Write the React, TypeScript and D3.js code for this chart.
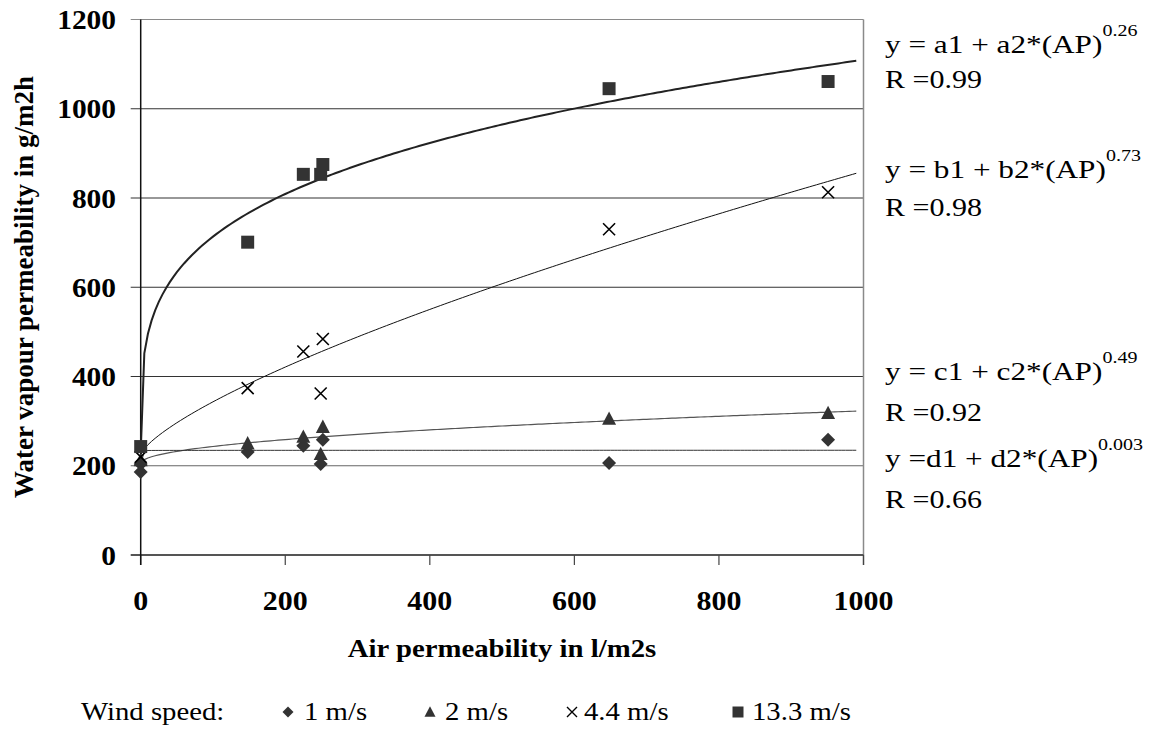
import React from "react";
import * as d3 from "d3";

// Measured points: air permeability (l/m2s) against water vapour permeability (g/m2h)
const diamondAP = [0, 0, 148, 225, 249, 252, 648, 951];
const diamondVal = [204, 186, 231, 245, 204, 258, 206, 258];

const triangleAP = [0, 148, 225, 249, 252, 648, 951];
const triangleVal = [212, 250, 265, 226, 287, 305, 318];

const crossAP = [0, 148, 225, 249, 252, 648, 951];
const crossVal = [220, 374, 456, 362, 484, 730, 813];

const squareAP = [0, 148, 225, 249, 252, 648, 951];
const squareVal = [243, 701, 853, 853, 875, 1045, 1061];

// Power-law fits y = k1 + k2 * AP^n, one per wind speed
const fitNames = ["a", "b", "c", "d"];
const fitIntercept = [230, 225, 205, 200];
const fitCoef = [146, 4.1, 4.0, 34];
const fitExponent = ["0.26", "0.73", "0.49", "0.003"];
const fitR = ["0.99", "0.98", "0.92", "0.66"];

const xTicks = [0, 200, 400, 600, 800, 1000];
const yTicks = [0, 200, 400, 600, 800, 1000, 1200];

const legendTitle = "Wind speed:";
const legendLabels = ["1 m/s", "2 m/s", "4.4 m/s", "13.3 m/s"];

const W = 1149;
const H = 729;
const X0 = 140.7;
const X1 = 863.5;
const Y0 = 555;
const Y1 = 19.5;

const x = d3.scaleLinear().domain([0, 1000]).range([X0, X1]);
const y = d3.scaleLinear().domain([0, 1200]).range([Y0, Y1]);

const MARK = "#333333";
const txt = { fontFamily: "Liberation Serif" };

const diamondPath = (cx: number, cy: number, r: number) =>
  `M${cx},${cy - r}L${cx + r},${cy}L${cx},${cy + r}L${cx - r},${cy}Z`;
const trianglePath = (cx: number, cy: number, r: number) =>
  `M${cx},${cy - r * 1.05}L${cx + r},${cy + r * 0.85}L${cx - r},${cy + r * 0.85}Z`;
const squarePath = (cx: number, cy: number, r: number) =>
  `M${cx - r},${cy - r}H${cx + r}V${cy + r}H${cx - r}Z`;
const crossPath = (cx: number, cy: number, r: number) =>
  `M${cx - r},${cy - r}L${cx + r},${cy + r}M${cx + r},${cy - r}L${cx - r},${cy + r}`;

const fitStyles = [
  { stroke: "#222", width: 2 },
  { stroke: "#111", width: 1 },
  { stroke: "#555", width: 1.2 },
  { stroke: "#333", width: 1 },
];

const fitSamples = d3.range(0, 990.1, 5);

// Text drawn slightly widened, as in the original export
const at = (px: number, py: number, sx: number) => `translate(${px},${py}) scale(${sx},1)`;

export default function App() {
  const line = d3
    .line<[number, number]>()
    .x((d) => x(d[0]))
    .y((d) => y(d[1]));

  const eqBase = [53, 178, 380, 467];
  const rBase = [88, 216, 421, 508];

  const legendMarkX = [288, 430, 572, 738];
  const legendTextX = [304, 445, 584, 752];
  const legendY = 720;

  return (
    <svg
      width={W}
      height={H}
      viewBox={`0 0 ${W} ${H}`}
      style={{ position: "absolute", left: 0, top: 0, background: "#fff" }}
    >
      {/* horizontal gridlines */}
      {yTicks.slice(1).map((t) => (
        <line
          key={`g${t}`}
          x1={X0 - 10}
          x2={X1}
          y1={y(t)}
          y2={y(t)}
          stroke={t === 1200 ? "#8a8a8a" : t === 200 ? "#666" : "#333"}
          strokeWidth={1.2}
        />
      ))}
      {/* right border */}
      <line x1={X1} x2={X1} y1={Y1} y2={Y0 + 10} stroke="#8a8a8a" strokeWidth={1.5} />
      {/* x axis */}
      <line x1={X0 - 10} x2={X1} y1={Y0} y2={Y0} stroke="#555" strokeWidth={2} />
      {xTicks.map((t) => (
        <line key={`xt${t}`} x1={x(t)} x2={x(t)} y1={Y0} y2={Y0 + 10} stroke="#444" strokeWidth={1.2} />
      ))}
      {/* y axis */}
      <line x1={X0} x2={X0} y1={Y1} y2={Y0 + 10} stroke="#111" strokeWidth={1.5} />

      {/* tick labels */}
      {yTicks.map((t) => (
        <text
          key={`yl${t}`}
          transform={at(116, y(t) + 9.5, 1.07)}
          textAnchor="end"
          fontWeight="bold"
          fontSize={27.5}
          fill="#000"
          style={txt}
        >
          {t}
        </text>
      ))}
      {xTicks.map((t) => (
        <text
          key={`xl${t}`}
          transform={at(x(t), 610, 1.07)}
          textAnchor="middle"
          fontWeight="bold"
          fontSize={28}
          fill="#000"
          style={txt}
        >
          {t}
        </text>
      ))}

      {/* axis titles */}
      <text
        transform={at(502, 657, 1.15)}
        textAnchor="middle"
        fontWeight="bold"
        fontSize={25}
        style={txt}
      >
        Air permeability in l/m2s
      </text>
      <text
        transform="translate(33,287) rotate(-90)"
        textAnchor="middle"
        fontWeight="bold"
        fontSize={27}
        style={txt}
      >
        Water vapour permeability in g/m2h
      </text>

      {/* fitted curves */}
      {fitNames.map((n, i) => {
        const pts: [number, number][] = fitSamples.map((ap) => [
          ap,
          fitIntercept[i] + fitCoef[i] * Math.pow(ap, parseFloat(fitExponent[i])),
        ]);
        return (
          <path
            key={`fit${n}`}
            d={line(pts) || ""}
            fill="none"
            stroke={fitStyles[i].stroke}
            strokeWidth={fitStyles[i].width}
          />
        );
      })}

      {/* markers */}
      {diamondAP.map((ap, i) => (
        <path key={`d${i}`} d={diamondPath(x(ap), y(diamondVal[i]), 7)} fill={MARK} />
      ))}
      {triangleAP.map((ap, i) => (
        <path key={`t${i}`} d={trianglePath(x(ap), y(triangleVal[i]), 7)} fill={MARK} />
      ))}
      {crossAP.map((ap, i) => (
        <path key={`c${i}`} d={crossPath(x(ap), y(crossVal[i]), 6)} stroke="#000" strokeWidth={1.6} fill="none" />
      ))}
      {squareAP.map((ap, i) => (
        <path key={`s${i}`} d={squarePath(x(ap), y(squareVal[i]), 6.5)} fill={MARK} />
      ))}

      {/* fit equations */}
      {fitNames.map((n, i) => {
        const mid = n === "d" ? " =" : " = ";
        return (
          <g key={`eq${n}`} fontSize={25} fill="#000">
            <text transform={at(885, eqBase[i], 1.25)} style={txt}>
              {`y${mid}${n}1 + ${n}2*(AP)`}
              <tspan fontSize={16} dy={-17}>
                {fitExponent[i]}
              </tspan>
            </text>
            <text transform={at(885, rBase[i], 1.2)} style={txt}>{`R =${fitR[i]}`}</text>
          </g>
        );
      })}

      {/* legend */}
      <g fontSize={25} fill="#000">
        <text transform={at(81, legendY, 1.15)} style={txt}>
          {legendTitle}
        </text>
        <path d={diamondPath(legendMarkX[0], legendY - 8, 5.5)} fill={MARK} />
        <path d={trianglePath(legendMarkX[1], legendY - 8, 5.5)} fill={MARK} />
        <path d={crossPath(legendMarkX[2], legendY - 8, 5)} stroke="#000" strokeWidth={1.4} fill="none" />
        <path d={squarePath(legendMarkX[3], legendY - 8, 5.5)} fill={MARK} />
        {legendLabels.map((l, i) => (
          <text key={l} transform={at(legendTextX[i], legendY, 1.15)} style={txt}>
            {l}
          </text>
        ))}
      </g>
    </svg>
  );
}
